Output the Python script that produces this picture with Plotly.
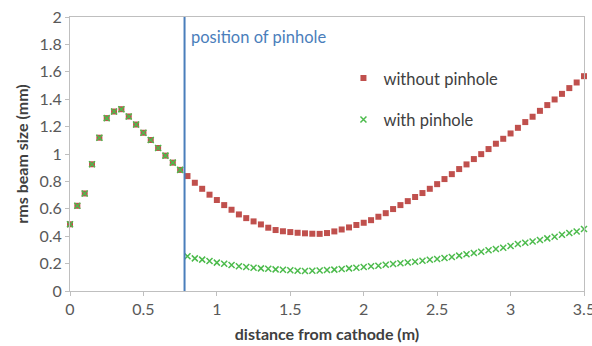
import plotly.graph_objects as go

# distance from cathode (m)
distance = [0.00, 0.05, 0.10, 0.15, 0.20, 0.25, 0.30, 0.35, 0.40, 0.45,
            0.50, 0.55, 0.60, 0.65, 0.70, 0.75, 0.80, 0.85, 0.90, 0.95,
            1.00, 1.05, 1.10, 1.15, 1.20, 1.25, 1.30, 1.35, 1.40, 1.45,
            1.50, 1.55, 1.60, 1.65, 1.70, 1.75, 1.80, 1.85, 1.90, 1.95,
            2.00, 2.05, 2.10, 2.15, 2.20, 2.25, 2.30, 2.35, 2.40, 2.45,
            2.50, 2.55, 2.60, 2.65, 2.70, 2.75, 2.80, 2.85, 2.90, 2.95,
            3.00, 3.05, 3.10, 3.15, 3.20, 3.25, 3.30, 3.35, 3.40, 3.45,
            3.50]

# rms beam size before the pinhole (identical for both cases)
shared_before = [0.487, 0.622, 0.712, 0.925, 1.119, 1.262, 1.310, 1.327,
                 1.274, 1.215, 1.155, 1.102, 1.044, 0.988, 0.937, 0.884]

# after the pinhole (0.80 m onward)
without_after = [0.839, 0.790, 0.746, 0.703, 0.664, 0.627, 0.593, 0.559,
                 0.532, 0.508, 0.486, 0.462, 0.445, 0.436, 0.430, 0.425,
                 0.421, 0.418, 0.417, 0.423, 0.435, 0.449, 0.464, 0.482,
                 0.498, 0.517, 0.542,
                 0.568, 0.598, 0.627, 0.656, 0.686, 0.715, 0.746, 0.780,
                 0.817, 0.853, 0.890, 0.924, 0.963, 0.999, 1.036, 1.075,
                 1.111, 1.150, 1.191, 1.233, 1.272, 1.315, 1.357, 1.398,
                 1.439, 1.481, 1.522, 1.568]

with_after = [0.253, 0.238, 0.229, 0.219, 0.207, 0.199, 0.190, 0.180,
              0.175, 0.170, 0.165, 0.162, 0.158, 0.155, 0.151, 0.148,
              0.146, 0.148, 0.150, 0.153, 0.156, 0.160, 0.165, 0.170,
              0.175, 0.180, 0.184,
              0.192, 0.197, 0.202, 0.208, 0.214, 0.221, 0.228, 0.233,
              0.241, 0.248, 0.258, 0.268, 0.277, 0.287, 0.297, 0.306,
              0.316, 0.328, 0.343, 0.352, 0.362, 0.372, 0.384, 0.396,
              0.411, 0.423, 0.435, 0.452]

pinhole_position = 0.78

without_pinhole = shared_before + without_after
with_pinhole = shared_before + with_after

FONT = "Lato, 'Open Sans', sans-serif"
RED = "#c0504d"
GREEN = "#4cbb4c"
BLUE = "#4a7ebb"
AXIS = "#bfbfbf"

fig = go.Figure()
fig.add_trace(go.Scatter(
    x=distance, y=without_pinhole, mode="markers", name="without pinhole",
    legendgroup="a", cliponaxis=False,
    marker=dict(symbol="square", size=6, color=RED, line=dict(width=0))))
fig.add_trace(go.Scatter(
    x=distance, y=with_pinhole, mode="markers", name="with pinhole",
    legendgroup="b", cliponaxis=False,
    marker=dict(symbol="x-thin", size=6, color=GREEN,
                line=dict(width=1.5, color=GREEN))))

fig.add_shape(type="line", x0=pinhole_position, x1=pinhole_position,
              y0=0, y1=1, xref="x", yref="paper",
              line=dict(color=BLUE, width=2))
fig.add_annotation(x=pinhole_position, y=1, xref="x", yref="paper",
                   text="position of pinhole", showarrow=False,
                   xanchor="left", yanchor="top", xshift=4, yshift=-8,
                   font=dict(family=FONT, size=16.5, color=BLUE))

fig.update_layout(
    width=592, height=346,
    margin=dict(l=70, r=8, t=17, b=55),
    paper_bgcolor="white", plot_bgcolor="white",
    font=dict(family=FONT, size=16, color="#404040"),
    showlegend=True,
    legend=dict(x=0.532, y=0.84, xanchor="left", yanchor="top",
                bgcolor="rgba(0,0,0,0)", tracegroupgap=17,
                font=dict(family=FONT, size=16.5, color="#404040")),
    xaxis=dict(range=[0, 3.5], dtick=0.5, tick0=0, showgrid=False,
               zeroline=False, showline=True, linecolor=AXIS, linewidth=1,
               mirror=True, ticks="outside", ticklen=4, tickcolor=AXIS,
               automargin=False, ticklabeloverflow="allow",
               tickfont=dict(family=FONT, size=16, color="#595959"),
               title=dict(text="<b>distance from cathode (m)</b>",
                          font=dict(family=FONT, size=16, color="#404040"),
                          standoff=11)),
    yaxis=dict(range=[0, 2], dtick=0.2, tick0=0, showgrid=False,
               zeroline=False, showline=True, linecolor=AXIS, linewidth=1,
               mirror=True, ticks="outside", ticklen=4, tickcolor=AXIS,
               tickformat="~g", automargin=False, ticklabeloverflow="allow",
               tickfont=dict(family=FONT, size=16, color="#595959"),
               title=dict(text="<b>rms beam size (mm)</b>",
                          font=dict(family=FONT, size=16, color="#404040"),
                          standoff=6)),
)

# remove the browser's default 8px page margin so the figure fills the window
fig.write_html("out.html",
               config={"displayModeBar": False},
               post_script="document.body.style.margin='0';"
                           "document.body.style.overflow='hidden';")
